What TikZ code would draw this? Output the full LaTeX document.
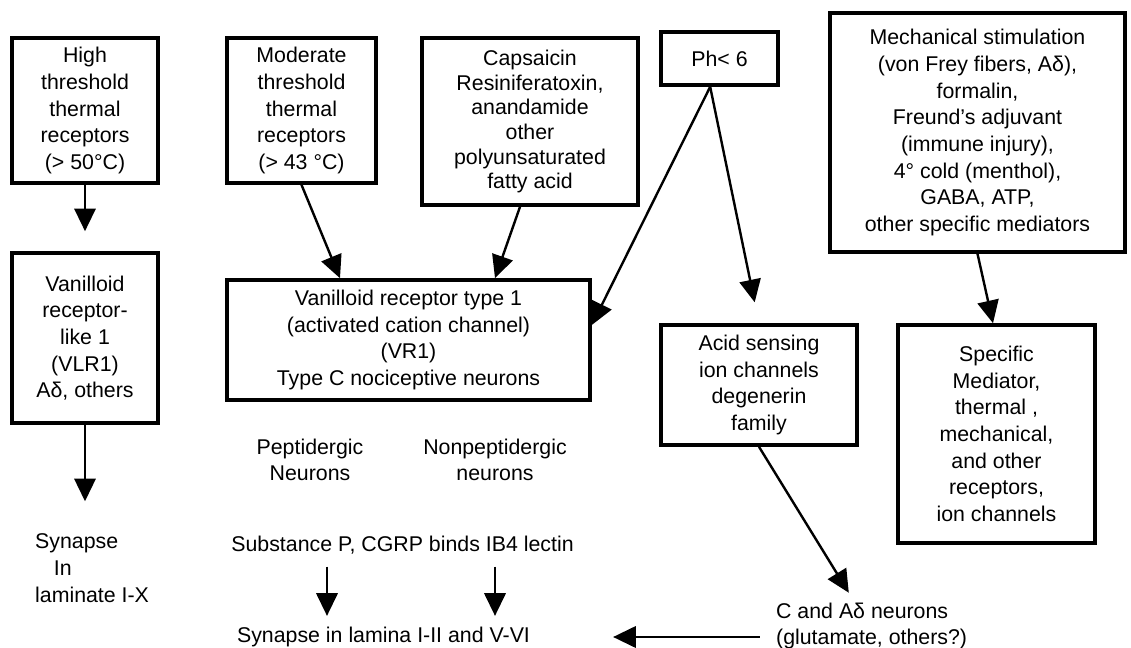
\documentclass[tikz,border=0pt]{standalone}
\usepackage{fontspec}
\setmainfont{Liberation Sans}
\usetikzlibrary{arrows.meta}
\tikzset{every picture/.style={line width=0.75pt}}

\begin{document}
\begin{tikzpicture}[x=0.75pt,y=0.75pt,yscale=-1,xscale=1,
  box/.style={draw, line width=2.7pt, inner sep=2pt, align=center, font=\fontsize{16}{20}\selectfont},
  label/.style={inner sep=2pt, font=\fontsize{16}{20}\selectfont},
  flow/.style={line width=1.8pt, -{Triangle[width=16pt,length=17pt]}}]
\path[use as bounding box] (0,0) rectangle (1131,648);

%Boxes
\node[box, minimum width=109.5pt, minimum height=108.75pt] (high) at (85,110.5) {High\\threshold\\thermal\\receptors\\(> 50°C)};
\node[box, minimum width=109.5pt, minimum height=127.5pt] (vlr) at (85,338) {Vanilloid\\receptor-\\like 1\\(VLR1)\\Aδ, others};
\node[box, minimum width=111.75pt, minimum height=108.75pt] (moder) at (301.5,110.5) {Moderate\\threshold\\thermal\\receptors\\(> 43 °C)};
\node[box, minimum width=162pt, minimum height=125.25pt, font=\fontsize{16}{18.5}\selectfont] (caps) at (530,121.5) {Capsaicin\\Resiniferatoxin,\\anandamide\\other\\polyunsaturated\\fatty acid};
\node[box, minimum width=87.75pt, minimum height=39.75pt] (ph) at (719.5,58.5) {Ph< 6};
\node[box, minimum width=221.25pt, minimum height=179.25pt] (mech) at (977.5,132.5) {Mechanical stimulation\\(von Frey fibers, Aδ),\\formalin,\\Freund's adjuvant\\(immune injury),\\4° cold (menthol),\\GABA, ATP,\\other specific mediators};
\node[box, minimum width=272.25pt, minimum height=90pt] (vrone) at (408.5,340) {Vanilloid receptor type 1\\(activated cation channel)\\(VR1)\\Type C nociceptive neurons};
\node[box, minimum width=147pt, minimum height=90pt] (acid) at (759,385) {Acid sensing\\ion channels\\degenerin\\family};
\node[box, minimum width=147.75pt, minimum height=163.5pt] (spec) at (996.5,434) {Specific\\Mediator,\\thermal ,\\mechanical,\\and other\\receptors,\\ion channels};

% Text Node
\node[label, align=left, anchor=west] (synone) at (32,568) {Synapse\\\hspace{14pt}In\\laminate I-X};
\node[label, align=center] (pep) at (310,460) {Peptidergic\\Neurons};
\node[label, align=center] (nonpep) at (495,460) {Nonpeptidergic\\neurons};
\node[label] (subst) at (402.5,545) {Substance P, CGRP binds IB4 lectin};
\node[label] (syntwo) at (383.5,637) {Synapse in lamina I-II and V-VI};
\node[label, align=left, anchor=west] (cad) at (773,626) {C and Aδ neurons\\(glutamate, others?)};

%Connectors
\draw[flow, shorten >=15pt] (high) -- (vlr);
\draw[flow, shorten >=22pt] (vlr.south) -- (vlr.south |- synone.north);
\draw[flow] (moder.south) -- (vrone.north -| 340,0);
\draw[flow] ([xshift=-7.5pt]caps.south) -- (vrone.north -| 495,0);
\draw[flow] ([xshift=-7pt]ph.south) -- (vrone.east |- 0,325);
\draw[flow, shorten >=16pt] ([xshift=-7pt]ph.south) -- (acid.north);
\draw[flow] (mech.south) -- (spec.north -| 993,0);
\draw[flow, shorten >=6pt] (acid.south) -- (cad.north -| 853,0);
\draw[flow, shorten <=10pt, shorten >=60pt] (cad.west |- syntwo) -- (syntwo.east);
\draw[flow, shorten <=7pt, shorten >=6pt] (subst.south -| 327,0) -- (syntwo.north -| 327,0);
\draw[flow, shorten <=7pt, shorten >=6pt] (subst.south -| 495,0) -- (syntwo.north -| 495,0);

\end{tikzpicture}
\end{document}
